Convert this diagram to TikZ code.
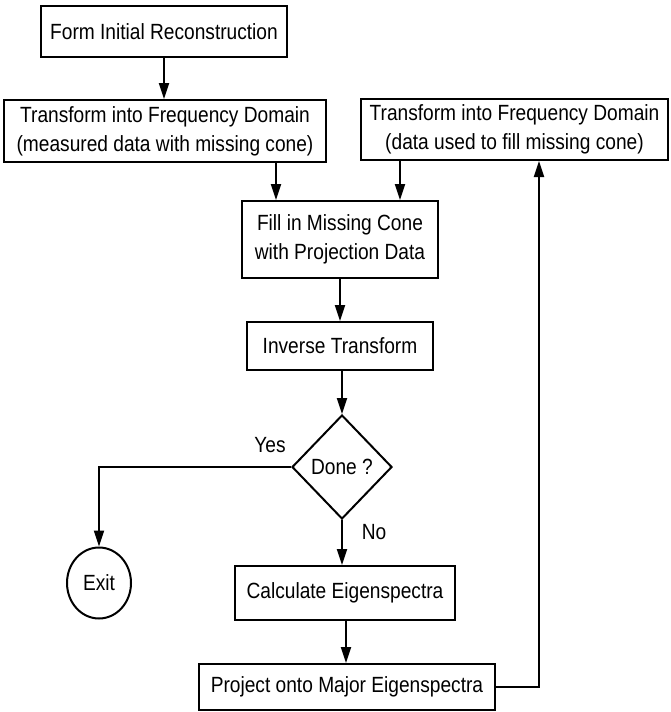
\documentclass[tikz,border=0pt]{standalone}
\usepackage{fontspec}
\setmainfont{Liberation Sans}[FakeStretch=0.87]
\usetikzlibrary{arrows.meta,shapes.geometric}
\begin{document}
\begin{tikzpicture}[x=1pt,y=-1pt,
  every node/.style={font=\fontsize{22}{29}\selectfont, inner sep=0pt},
  box/.style={draw, line width=2pt, align=center},
  arr/.style={line width=2pt, -{Triangle[length=16pt,width=10pt]}},
  plain/.style={line width=2pt}]
\useasboundingbox (0,0) rectangle (670,712);

% process steps
\node[box, minimum width=246pt, minimum height=51pt] (init) at (164,31.5)
  {Form Initial Reconstruction};
\node[box, minimum width=322pt, minimum height=62pt] (meas) at (165,131)
  {Transform into Frequency Domain\\(measured data with missing cone)};
\node[box, minimum width=307pt, minimum height=61pt] (used) at (514.5,129.5)
  {Transform into Frequency Domain\\(data used to fill missing cone)};
\node[box, minimum width=196pt, minimum height=77pt] (fill) at (340,239.5)
  {Fill in Missing Cone\\with Projection Data};
\node[box, minimum width=186pt, minimum height=48pt] (inv) at (340,346)
  {Inverse Transform};
\node[box, diamond, minimum width=100pt, minimum height=104pt] (done) at (342,467)
  {Done ?};
\node[box, ellipse, minimum width=64pt, minimum height=71pt] (exit) at (99,583)
  {Exit};
\node[box, minimum width=220pt, minimum height=54pt] (eig) at (345,593)
  {Calculate Eigenspectra};
\node[box, minimum width=296pt, minimum height=46pt] (proj) at (347,687)
  {Project onto Major Eigenspectra};

% branch labels
\node (yes) at (270,445) {Yes};
\node (no) at (374,532) {No};

% flow
\draw[arr] (init.south) -- (init.south |- meas.north);
\draw[arr] ([xshift=111pt]meas.south) -- ([xshift=-64pt]fill.north);
\draw[arr] ([xshift=-114.5pt]used.south) -- ([xshift=60pt]fill.north);
\draw[arr] (fill.south) -- (fill.south |- inv.north);
\draw[arr] ([xshift=2pt]inv.south) -- (done.north);
\draw[arr] (done.west) -| (exit.north);
\draw[arr] (done.south) -- (done.south |- eig.north);
\draw[arr] ([xshift=1pt]eig.south) -- ([xshift=-1pt]proj.north);
\draw[arr] (proj.east) -| ([xshift=24.5pt]used.south);
\end{tikzpicture}
\end{document}
